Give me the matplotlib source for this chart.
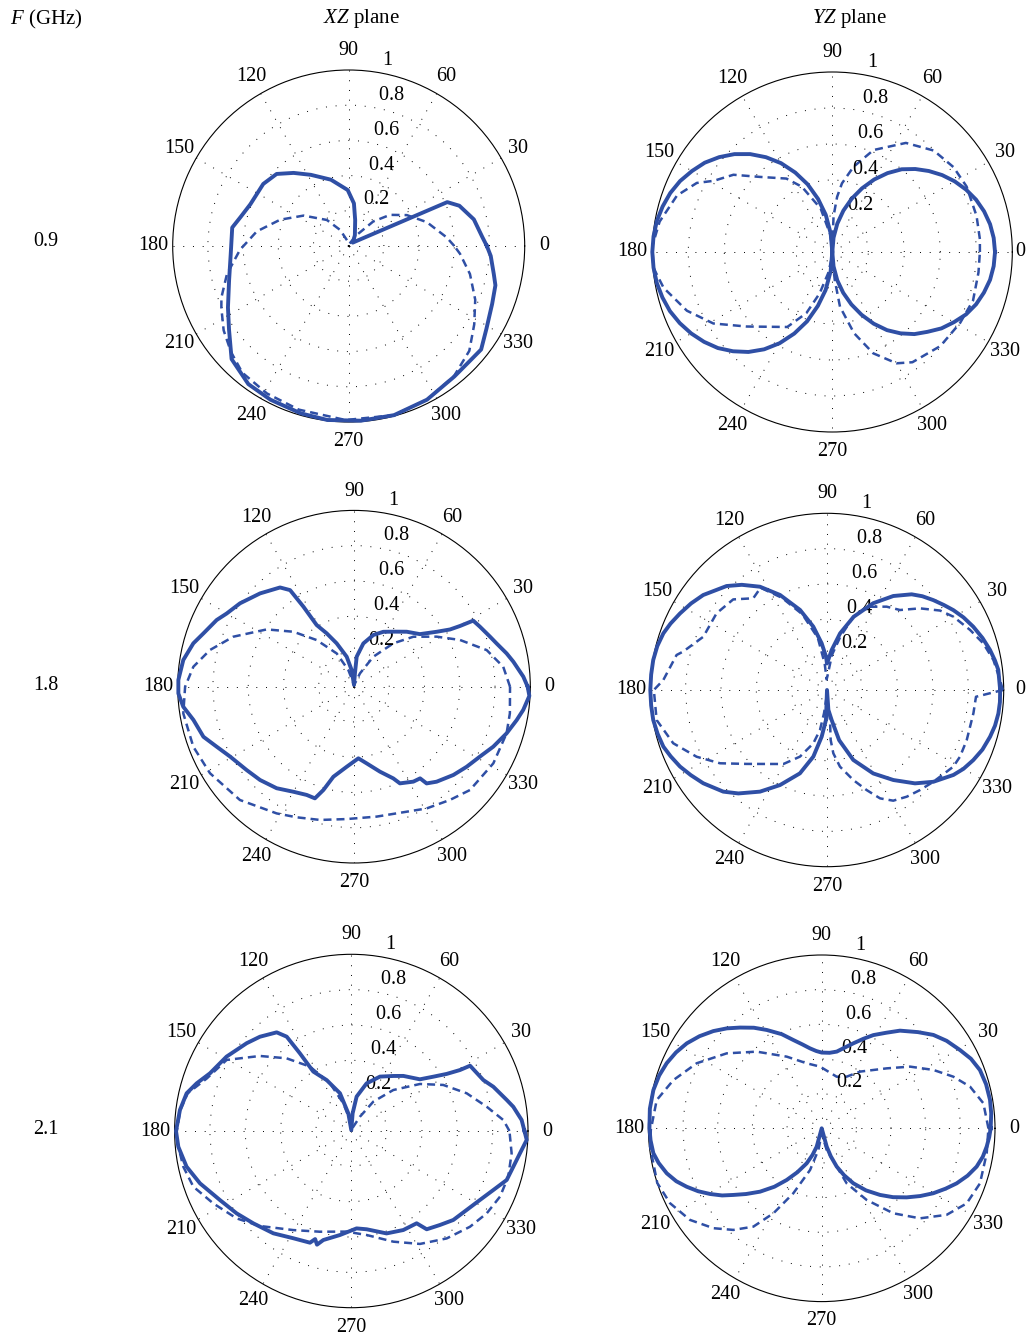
import numpy as np
import matplotlib
matplotlib.use('Agg')
import matplotlib.pyplot as plt

plt.rcParams['font.family'] = ['Liberation Serif', 'DejaVu Serif']
plt.rcParams['mathtext.fontset'] = 'custom'
plt.rcParams['mathtext.rm'] = 'Liberation Serif'
plt.rcParams['mathtext.it'] = 'Liberation Serif:italic'

# Normalised patterns: angle in degrees, relative field. solid / dashed trace per panel.

# 0.9 GHz, XZ plane
xz09_solid_ang = [0, 4, 12, 20, 24, 40, 60, 76, 83, 91, 105, 118, 127, 135, 144, 157, 165, 171,
                  184, 196, 207, 215, 224, 234, 243, 254, 263, 274, 285, 297, 309, 317, 322, 329,
                  338, 345, 349, 356, 360]
xz09_solid_r = [0.785, 0.76, 0.727, 0.669, 0.613, 0.03, 0.07, 0.152, 0.244, 0.318, 0.39, 0.458,
                0.52, 0.579, 0.60, 0.607, 0.636, 0.67, 0.672, 0.707, 0.77, 0.83, 0.925, 0.97, 0.98,
                0.989, 0.996, 0.995, 0.995, 0.98, 0.954, 0.949, 0.955, 0.913, 0.879, 0.863, 0.84,
                0.809, 0.785]
xz09_dash_ang = [0, 5, 17, 28, 37, 45, 54, 75, 100, 118, 130, 146, 159, 171, 182, 193, 202, 206,
                 214, 222, 230, 241, 253, 269, 285, 297, 309, 319, 328, 337, 347, 356, 360]
xz09_dash_r = [0.60, 0.559, 0.464, 0.374, 0.294, 0.197, 0.077, 0.012, 0.025, 0.103, 0.193, 0.309,
               0.417, 0.529, 0.618, 0.71, 0.78, 0.805, 0.857, 0.90, 0.94, 0.958, 0.972, 0.989,
               0.995, 0.98, 0.951, 0.908, 0.841, 0.781, 0.707, 0.634, 0.60]

# 0.9 GHz, YZ plane
yz09_solid_ang = list(range(0, 361, 5))
yz09_solid_r = [0.904, 0.90, 0.89, 0.873, 0.85, 0.82, 0.785, 0.745, 0.70, 0.652, 0.60, 0.535,
                0.465, 0.39, 0.315, 0.238, 0.16, 0.08, 0.0, 0.104, 0.21, 0.305, 0.40, 0.487,
                0.57, 0.643, 0.71, 0.769, 0.82, 0.865, 0.90, 0.933, 0.958, 0.976, 0.99, 0.997,
                1.0, 0.997, 0.99, 0.977, 0.96, 0.935, 0.905, 0.87, 0.83, 0.78, 0.725, 0.66,
                0.585, 0.50, 0.41, 0.31, 0.215, 0.108, 0.0, 0.08, 0.16, 0.235, 0.31, 0.385,
                0.46, 0.53, 0.59, 0.645, 0.69, 0.74, 0.78, 0.82, 0.85, 0.872, 0.89, 0.90, 0.904]
yz09_dash_ang = [0, 5, 14, 26, 35, 45, 56, 68, 76, 82, 85, 88, 90, 97, 105, 115, 122, 134, 142,
                 149, 153, 160, 170, 178, 185, 192, 202, 211, 221, 239, 247, 253, 259, 266, 272,
                 275, 278, 285, 292, 300, 306, 319, 331, 341, 352, 360]
yz09_dash_r = [0.82, 0.823, 0.826, 0.83, 0.822, 0.797, 0.731, 0.611, 0.488, 0.385, 0.308, 0.2,
               0.02, 0.1, 0.25, 0.40, 0.481, 0.58, 0.697, 0.768, 0.845, 0.918, 0.974, 1.0, 0.998,
               0.958, 0.871, 0.771, 0.631, 0.486, 0.369, 0.24, 0.12, 0.03, 0.05, 0.156, 0.307,
               0.467, 0.607, 0.714, 0.757, 0.796, 0.812, 0.827, 0.82, 0.82]

# 1.8 GHz, XZ plane
xz18_solid_ang = [0, 3.4, 8.9, 12.3, 16.9, 20.2, 25.5, 29, 29.8, 30.8, 33.6, 38.6, 46.2, 54.4,
                  61.9, 69.5, 77.8, 84.9, 86, 90, 98, 103.7, 111.8, 117.1, 121.2, 122.3, 123.5,
                  126.7, 135.2, 143.8, 150.1, 154.1, 160.5, 164.9, 171.1, 177.8, 182.2, 186.7,
                  191.7, 198.4, 203.6, 209.4, 217.8, 224.8, 232.7, 240, 246.4, 250.7, 253.5,
                  257.1, 264.8, 273.5, 279.4, 287, 293.2, 295.4, 302, 305.8, 306.9, 311, 318.4,
                  324.6, 331, 336.7, 343, 348.4, 352.2, 357, 360]
xz18_solid_r = [0.985, 0.962, 0.915, 0.886, 0.845, 0.822, 0.791, 0.773, 0.693, 0.634, 0.563,
                0.478, 0.432, 0.384, 0.353, 0.313, 0.251, 0.171, 0.076, 0.01, 0.095, 0.175,
                0.265, 0.34, 0.409, 0.537, 0.657, 0.702, 0.751, 0.801, 0.833, 0.866, 0.906,
                0.944, 0.98, 0.997, 0.997, 0.975, 0.93, 0.90, 0.85, 0.807, 0.771, 0.751, 0.724,
                0.688, 0.67, 0.671, 0.611, 0.524, 0.456, 0.407, 0.441, 0.504, 0.566, 0.607,
                0.635, 0.641, 0.686, 0.714, 0.754, 0.784, 0.817, 0.86, 0.905, 0.942, 0.969,
                0.996, 0.985]
xz18_dash_ang = [0, 7.6, 15.4, 23.8, 31.2, 40.1, 47.8, 57.2, 65.8, 85, 108.8, 117.5, 128.7,
                 137.8, 146.7, 157.5, 165.7, 172.9, 180, 188.9, 200.5, 211, 224.8, 238.6, 246.3,
                 255.7, 266.8, 279.9, 300.8, 310.3, 318.3, 331.2, 343, 350.3, 360]
xz18_dash_r = [0.885, 0.854, 0.781, 0.657, 0.548, 0.44, 0.332, 0.202, 0.083, 0.01, 0.1, 0.213,
               0.339, 0.464, 0.592, 0.741, 0.843, 0.918, 0.958, 0.98, 0.973, 0.953, 0.912, 0.842,
               0.809, 0.78, 0.752, 0.748, 0.804, 0.842, 0.881, 0.902, 0.905, 0.897, 0.885]

# 1.8 GHz, YZ plane
yz18_solid_ang = [0, 6.7, 10, 13.8, 18.5, 23.4, 28, 32.3, 36, 40.2, 44.5, 48.5, 54.8, 62, 70, 77,
                  83.3, 90, 91.7, 96.5, 102.2, 108.6, 116.3, 123, 129, 134, 142.5, 147.5, 152.5,
                  157, 160.9, 165.5, 170.2, 175, 180, 185, 189.8, 194.5, 199.1, 203, 207.5, 212,
                  217, 224.4, 229.4, 236.6, 243.7, 252, 258.4, 263.5, 268, 270, 274, 278.8,
                  283.6, 290.6, 299, 306.4, 313.3, 319.2, 326.1, 330, 334.4, 339, 344, 348,
                  352.2, 356, 360]
yz18_solid_r = [0.98, 0.976, 0.965, 0.95, 0.928, 0.902, 0.875, 0.846, 0.818, 0.788, 0.757, 0.723,
                0.651, 0.556, 0.441, 0.329, 0.228, 0.15, 0.189, 0.266, 0.367, 0.478, 0.60, 0.697,
                0.766, 0.818, 0.883, 0.912, 0.938, 0.962, 0.98, 0.992, 0.998, 0.999, 1.0, 0.999,
                0.998, 0.99, 0.98, 0.961, 0.938, 0.909, 0.877, 0.822, 0.771, 0.689, 0.60, 0.496,
                0.385, 0.266, 0.17, 0.0, 0.113, 0.172, 0.292, 0.423, 0.54, 0.633, 0.726, 0.795,
                0.862, 0.892, 0.918, 0.942, 0.96, 0.972, 0.979, 0.981, 0.98]
yz18_dash_ang = [0, 3.3, 10.2, 16.6, 22.8, 30.1, 35.1, 41.3, 47.6, 54.4, 64.5, 70.2, 76, 82, 88,
                 92, 95, 100, 108, 116, 123, 128.8, 136, 145.2, 156.7, 165, 166.9, 176.5, 180,
                 190, 199.1, 207.1, 214.4, 222.6, 239.5, 247.9, 255.6, 260, 262.7, 268, 275.7,
                 274.2, 275.7, 279.6, 286.3, 291.6, 296.1, 300.9, 306.8, 312.9, 319.2, 328.7,
                 333.4, 340.3, 351, 357.4, 360]
yz18_dash_r = [0.995, 0.981, 0.957, 0.923, 0.878, 0.827, 0.782, 0.70, 0.613, 0.58, 0.522, 0.441,
               0.31, 0.2, 0.08, 0.06, 0.15, 0.3, 0.45, 0.58, 0.69, 0.666, 0.738, 0.761, 0.762,
               0.842, 0.874, 0.928, 0.98, 0.979, 0.921, 0.829, 0.734, 0.618, 0.486, 0.407, 0.312,
               0.23, 0.133, 0.03, 0.171, 0.284, 0.36, 0.44, 0.531, 0.609, 0.683, 0.73, 0.754,
               0.773, 0.795, 0.836, 0.842, 0.84, 0.839, 0.844, 0.995]

# 2.1 GHz, XZ plane
xz21_solid_ang = [0, 3.7, 8.5, 11.3, 17.3, 21.1, 28.8, 29.3, 30.9, 33.5, 37, 46.6, 52.6, 62.2,
                  72.2, 81.2, 85.7, 90, 99.6, 106.7, 115.8, 122.6, 123.5, 124.4, 127.1, 134.1,
                  140, 149.2, 157.8, 162.9, 167.1, 173, 180, 185.2, 192.2, 199.1, 207.7, 215.7,
                  223.3, 232.7, 241.6, 249.7, 251.5, 253.2, 255.6, 263.8, 273.1, 278.9, 289,
                  297.7, 305.3, 307.5, 313.3, 318.9, 325.6, 331.8, 337.4, 342.5, 347.6, 352.5,
                  357.1, 360]
xz21_solid_r = [0.98, 0.966, 0.927, 0.897, 0.842, 0.801, 0.767, 0.705, 0.629, 0.557, 0.486,
                0.429, 0.392, 0.348, 0.283, 0.197, 0.1, 0.005, 0.101, 0.223, 0.32, 0.399, 0.527,
                0.647, 0.70, 0.743, 0.773, 0.822, 0.864, 0.916, 0.956, 0.977, 0.992, 0.983,
                0.954, 0.906, 0.84, 0.799, 0.762, 0.728, 0.69, 0.674, 0.645, 0.672, 0.637, 0.592,
                0.552, 0.563, 0.613, 0.633, 0.64, 0.701, 0.731, 0.766, 0.791, 0.826, 0.87, 0.922,
                0.939, 0.963, 0.994, 0.98]
xz21_dash_ang = [0, 4.1, 10.2, 18.1, 26.6, 34.4, 44.3, 53.1, 58.8, 80, 97, 106.1, 114.1, 122.7,
                 131.7, 140.6, 150.3, 160, 167, 173, 180.8, 185.2, 192, 199.4, 207.7, 217.3,
                 226.1, 239.6, 252.7, 267.3, 278.4, 290.8, 301.3, 311.6, 321.1, 328.7, 336.2,
                 343.8, 352.1, 360]
xz21_dash_r = [0.895, 0.863, 0.778, 0.687, 0.582, 0.471, 0.332, 0.208, 0.095, 0.01, 0.06, 0.163,
               0.296, 0.433, 0.551, 0.669, 0.812, 0.87, 0.95, 0.975, 0.99, 0.983, 0.972, 0.948,
               0.882, 0.816, 0.746, 0.65, 0.597, 0.57, 0.595, 0.67, 0.748, 0.813, 0.863, 0.897,
               0.92, 0.925, 0.916, 0.895]

# 2.1 GHz, YZ plane
yz21_solid_ang = [0, 5, 9.6, 15, 20.2, 25, 29.5, 35, 39.9, 45, 51.3, 56, 61, 65, 69.6, 74, 78.9,
                  84, 90, 94, 98.3, 103, 107.8, 113, 119.2, 124, 129, 133.5, 138.1, 143, 147.8,
                  152.5, 157.2, 162, 167.2, 173.5, 180, 184, 188.4, 192, 196.2, 200, 203.4, 207,
                  210.5, 214, 217, 221, 225.8, 231, 235.9, 241, 246.8, 251, 254.7, 270, 285.3,
                  288, 291.4, 295.5, 299.9, 305.5, 311.2, 316, 320.9, 325.5, 329.8, 334, 337.8,
                  342, 346.1, 350, 353.7, 357, 360]
yz21_solid_r = [0.975, 0.982, 0.985, 0.982, 0.973, 0.95, 0.917, 0.88, 0.84, 0.785, 0.722, 0.665,
                0.615, 0.57, 0.523, 0.485, 0.451, 0.438, 0.437, 0.447, 0.466, 0.497, 0.535, 0.59,
                0.65, 0.70, 0.748, 0.795, 0.84, 0.883, 0.92, 0.948, 0.97, 0.986, 0.996, 0.998,
                0.994, 0.99, 0.982, 0.962, 0.931, 0.893, 0.849, 0.80, 0.747, 0.693, 0.639, 0.578,
                0.51, 0.434, 0.36, 0.29, 0.22, 0.162, 0.11, 0.0, 0.11, 0.17, 0.237, 0.30, 0.366,
                0.44, 0.511, 0.572, 0.632, 0.69, 0.745, 0.795, 0.841, 0.885, 0.921, 0.944, 0.958,
                0.968, 0.975]
yz21_dash_ang = [0, 8.8, 15.7, 21.4, 27.6, 34.9, 42.7, 55.9, 64.2, 73.8, 91.5, 103, 116, 130.3,
                 141.7, 152.5, 162, 170.3, 180.5, 186.1, 198.4, 206.3, 214.8, 222.7, 229, 235.2,
                 240.4, 246.4, 254.4, 261.3, 270, 283, 291.4, 294.4, 302.1, 310.1, 317.5, 325.3,
                 332.6, 340.8, 351.4, 360]
yz21_dash_r = [0.962, 0.944, 0.889, 0.816, 0.727, 0.622, 0.51, 0.395, 0.331, 0.31, 0.356, 0.385,
               0.46, 0.58, 0.698, 0.813, 0.90, 0.966, 0.986, 0.996, 1.0, 0.976, 0.926, 0.85,
               0.777, 0.691, 0.564, 0.409, 0.25, 0.126, 0.03, 0.128, 0.237, 0.349, 0.488, 0.641,
               0.769, 0.877, 0.942, 0.967, 0.963, 0.962]

freqs = ['0.9', '1.8', '2.1']
r_ticks = [0.2, 0.4, 0.6, 0.8, 1]
theta_ticks = list(range(0, 360, 30))

panels = [
    (xz09_solid_ang, xz09_solid_r, xz09_dash_ang, xz09_dash_r),
    (yz09_solid_ang, yz09_solid_r, yz09_dash_ang, yz09_dash_r),
    (xz18_solid_ang, xz18_solid_r, xz18_dash_ang, xz18_dash_r),
    (yz18_solid_ang, yz18_solid_r, yz18_dash_ang, yz18_dash_r),
    (xz21_solid_ang, xz21_solid_r, xz21_dash_ang, xz21_dash_r),
    (yz21_solid_ang, yz21_solid_r, yz21_dash_ang, yz21_dash_r),
]

W, H = 1026, 1344
# centre x, centre y, radius of each polar panel (pixels)
panel_px = [(348.7, 246, 176), (832.3, 252, 180),
            (354, 686.7, 176.3), (827, 690, 176.7),
            (351.3, 1131, 176.7), (821.7, 1128.3, 173.3)]
row_y = [240, 683, 1128]

blue = '#2f4fa5'
fs = 14.5
lab_r = 1.11

fig = plt.figure(figsize=(W / 100, H / 100), dpi=100)

for (cx, cy, R), (sa, sr, da, dr) in zip(panel_px, panels):
    ax = fig.add_axes([(cx - R) / W, 1 - (cy + R) / H, 2 * R / W, 2 * R / H],
                      projection='polar')
    ax.plot(np.deg2rad(da), dr, color=blue, lw=1.8, linestyle=(0, (3.2, 2.0)),
            clip_on=False, zorder=3)
    ax.plot(np.deg2rad(sa), sr, color=blue, lw=2.8, solid_joinstyle='round',
            clip_on=False, zorder=4)
    ax.set_ylim(0, 1)
    ax.set_yticks(r_ticks[:-1])
    ax.set_yticklabels([])
    ax.set_xticks(np.deg2rad(theta_ticks))
    ax.set_xticklabels([])
    ax.tick_params(length=0)
    ax.grid(True, color='black', lw=0.7, linestyle=(0, (1, 9)))
    ax.spines['polar'].set_linewidth(0.8)
    for t in theta_ticks:
        x_px = cx + lab_r * R * np.cos(np.deg2rad(t))
        if x_px + 6 > W:
            # keep the 0 label inside the canvas for the right-hand column
            fig.text((W - 1) / W, 1 - cy / H, str(t), ha='right', va='center', fontsize=fs)
        else:
            ax.text(np.deg2rad(t), lab_r, str(t), ha='center', va='center', fontsize=fs)
    for r in r_ticks:
        ax.text(np.deg2rad(82), r + 0.01, '  %g' % r, ha='left', va='bottom', fontsize=fs)

fig.text(10 / W, 1 - 19 / H, r'$\mathit{F}$ (GHz)', ha='left', va='center', fontsize=15)
fig.text(361 / W, 1 - 19 / H, r'$\mathit{XZ}$ plane', ha='center', va='center', fontsize=15)
fig.text(850 / W, 1 - 19 / H, r'$\mathit{YZ}$ plane', ha='center', va='center', fontsize=15)
for f, y in zip(freqs, row_y):
    fig.text(46 / W, 1 - (y + 2) / H, f, ha='center', va='center', fontsize=fs)

fig.savefig('out.png', dpi=100)
